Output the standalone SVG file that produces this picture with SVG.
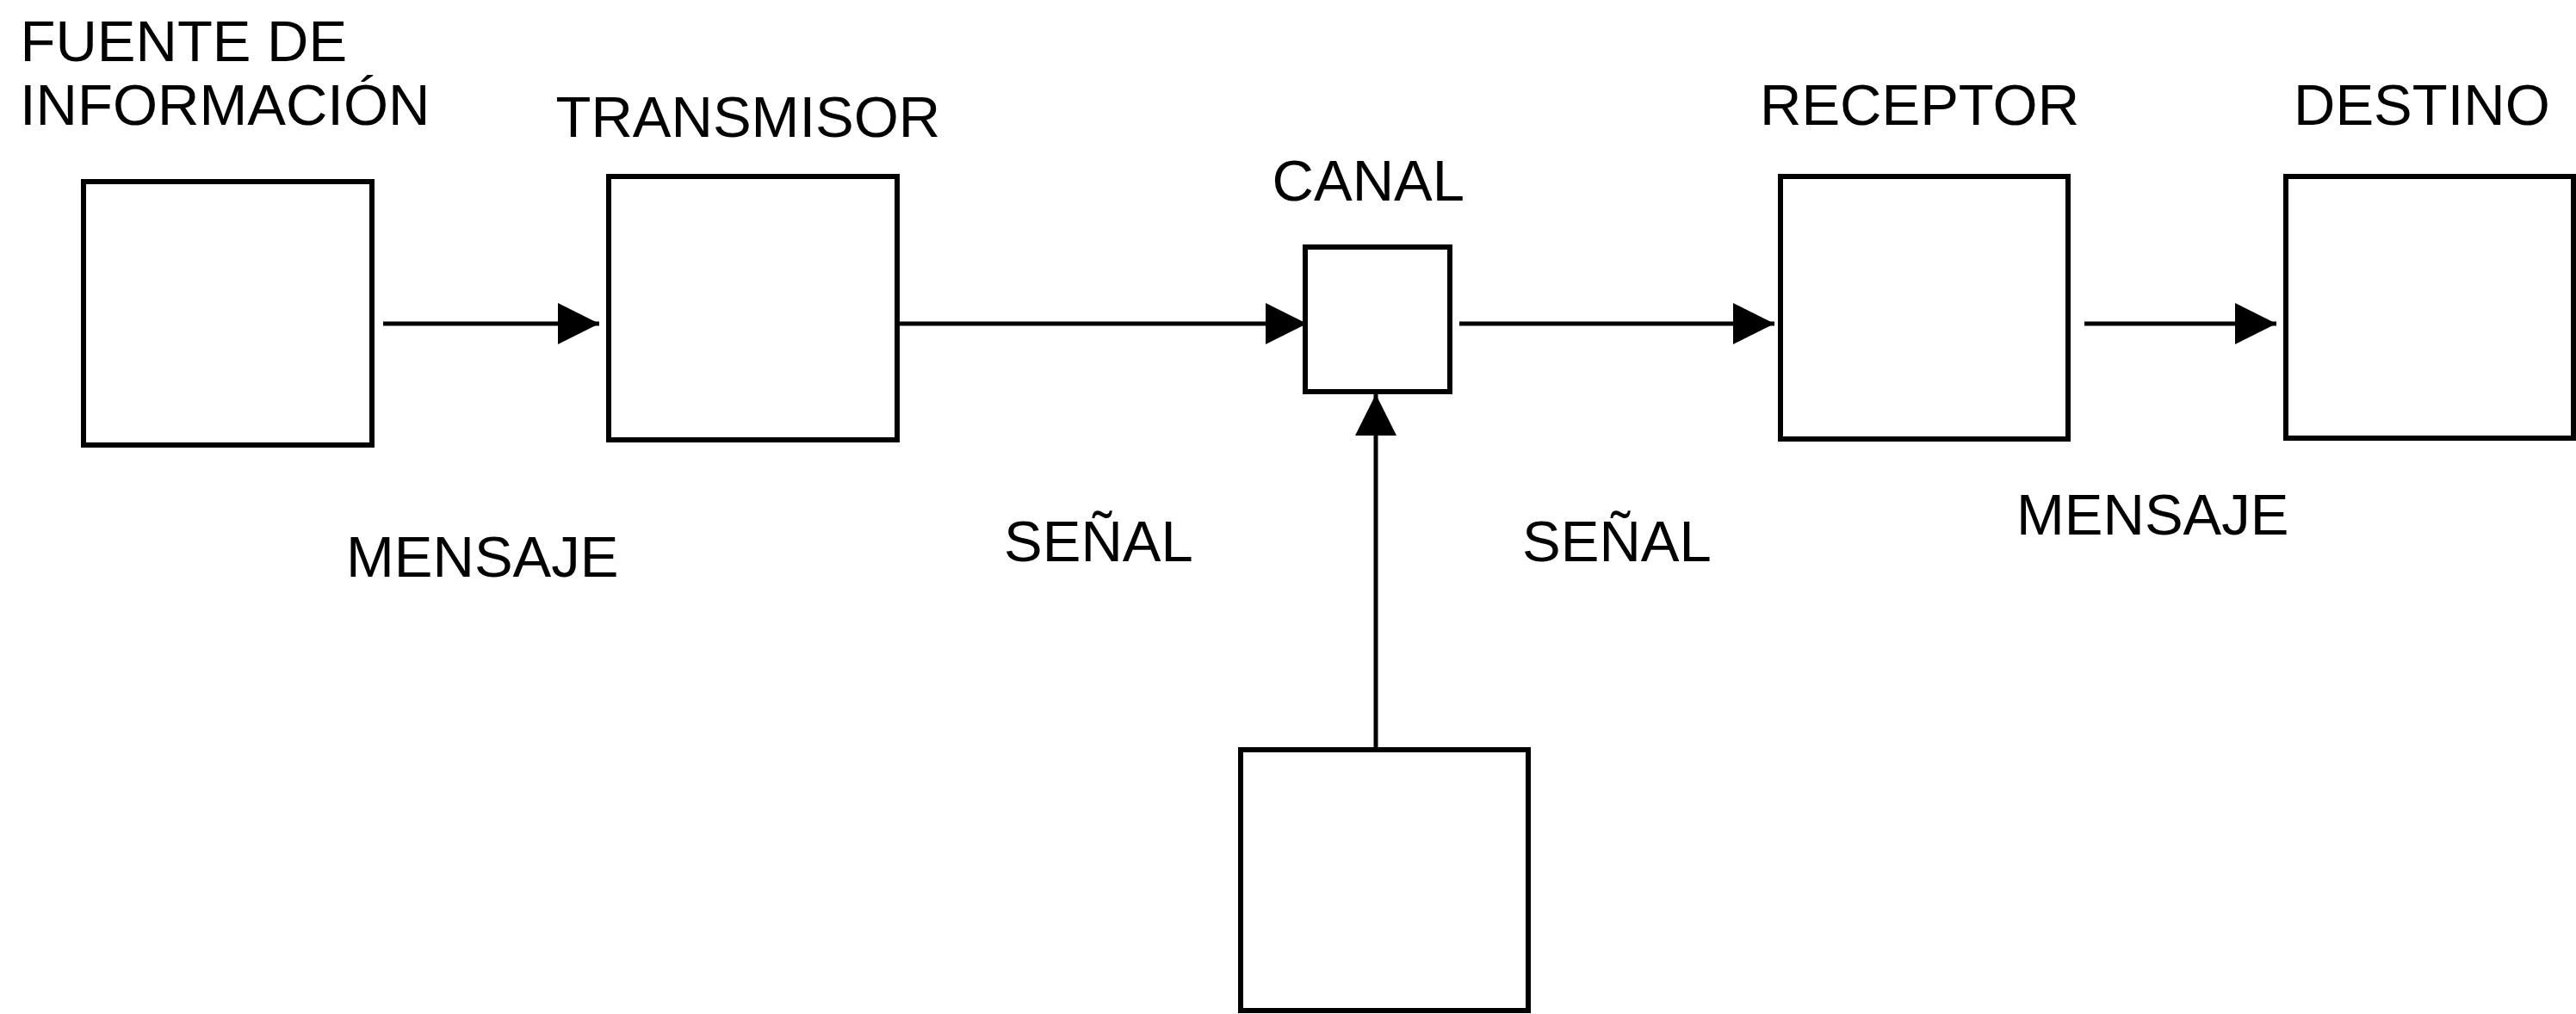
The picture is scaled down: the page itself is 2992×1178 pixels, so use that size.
<svg xmlns="http://www.w3.org/2000/svg" width="2992" height="1178" viewBox="0 0 2992 1178">
<style>
.box{fill:#fff;stroke:#000;stroke-width:6}
.lbl{font-family:"Liberation Sans",Arial,sans-serif;font-size:67px;fill:#000}
.con{stroke:#000;stroke-width:5;fill:none}
</style>
<defs>
<marker id="ah" markerUnits="userSpaceOnUse" markerWidth="48" markerHeight="48" refX="48" refY="24" orient="auto">
<path d="M0,0 L48,24 L0,48 Z" fill="#000"/>
</marker>
</defs>
<rect width="2992" height="1178" fill="#fff"/>
<g id="fuente">
<rect class="box" x="97" y="211" width="335" height="306"/>
<text class="lbl" x="23.5" y="71">FUENTE DE</text>
<text class="lbl" x="23" y="145">INFORMACIÓN</text>
</g>
<g id="transmisor">
<rect class="box" x="707" y="205" width="335" height="306"/>
<text class="lbl" x="645.5" y="159">TRANSMISOR</text>
</g>
<g id="canal">
<rect class="box" x="1516" y="287" width="168" height="168"/>
<text class="lbl" x="1477.6" y="233">CANAL</text>
</g>
<g id="ruido">
<rect class="box" x="1441" y="871" width="334" height="303"/>
</g>
<g id="receptor">
<rect class="box" x="2068" y="205" width="334" height="305"/>
<text class="lbl" x="2044" y="145">RECEPTOR</text>
</g>
<g id="destino">
<rect class="box" x="2655" y="205" width="334" height="304"/>
<text class="lbl" x="2664" y="145">DESTINO</text>
</g>
<g id="connectors">
<line class="con" x1="445" y1="376" x2="696" y2="376" marker-end="url(#ah)"/>
<line class="con" x1="1045" y1="376" x2="1518" y2="376" marker-end="url(#ah)"/>
<line class="con" x1="1695" y1="376" x2="2061" y2="376" marker-end="url(#ah)"/>
<line class="con" x1="2421" y1="376" x2="2644" y2="376" marker-end="url(#ah)"/>
<line class="con" x1="1598" y1="871" x2="1598" y2="458" marker-end="url(#ah)"/>
</g>
<g id="labels">
<text class="lbl" x="402" y="670">MENSAJE</text>
<text class="lbl" x="1166" y="652">SEÑAL</text>
<text class="lbl" x="1768" y="652">SEÑAL</text>
<text class="lbl" x="2342" y="621">MENSAJE</text>
</g>
</svg>
